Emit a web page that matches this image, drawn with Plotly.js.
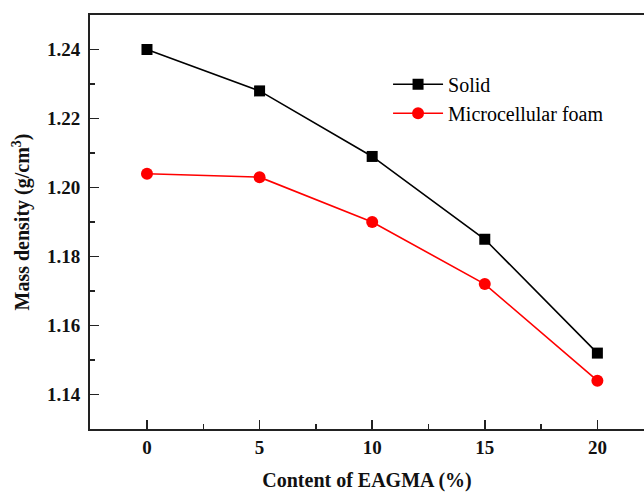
<!DOCTYPE html>
<html>
<head>
<meta charset="utf-8">
<script src="https://cdn.plot.ly/plotly-3.0.1.min.js"></script>
<style>html,body{margin:0;padding:0;background:#fff;}#chart{width:644px;height:493px;}</style>
</head>
<body>
<div id="chart"></div>
<script>
const eagmaContent = [0, 5, 10, 15, 20];
const solidDensity = [1.240, 1.228, 1.209, 1.185, 1.152];
const foamDensity = [1.204, 1.203, 1.190, 1.172, 1.144];
const seriesNames = ["Solid", "Microcellular foam"];
const xTickVals = [0, 5, 10, 15, 20];
const yTickVals = [1.14, 1.16, 1.18, 1.20, 1.22, 1.24];
const yTickText = ["1.14", "1.16", "1.18", "1.20", "1.22", "1.24"];

const serif = "'Times New Roman', 'Liberation Serif', serif";

const traces = [
  {x: eagmaContent, y: solidDensity, name: seriesNames[0], type: "scatter", mode: "lines+markers",
   line: {color: "#000000", width: 1.6}, marker: {symbol: "square", size: 11, color: "#000000"}},
  {x: eagmaContent, y: foamDensity, name: seriesNames[1], type: "scatter", mode: "lines+markers",
   line: {color: "#ff0000", width: 1.6}, marker: {symbol: "circle", size: 12, color: "#ff0000"}}
];

const layout = {
  width: 644, height: 493,
  margin: {l: 90, r: 0, t: 15, b: 64},
  paper_bgcolor: "#fff", plot_bgcolor: "#fff",
  font: {family: serif},
  showlegend: true,
  legend: {x: 0.538, y: 0.88, xanchor: "left", yanchor: "top", bgcolor: "rgba(0,0,0,0)",
           itemwidth: 50,
           font: {family: serif, size: 20, color: "#000"}, tracegroupgap: 0},
  xaxis: {
    range: [-2.53, 22.07], tickvals: xTickVals, ticktext: xTickVals.map(String),
    showgrid: false, zeroline: false, showline: true, linecolor: "#222", linewidth: 2, mirror: true,
    ticks: "inside", ticklen: 9, tickwidth: 1.5, tickcolor: "#222",
    minor: {dtick: 2.5, ticks: "inside", ticklen: 5, tickwidth: 1.5, tickcolor: "#222", showgrid: false},
    tickfont: {family: serif, size: 19, color: "#111", weight: "bold"},
    title: {text: "<b>Content of EAGMA (%)</b>", font: {family: serif, size: 20, color: "#111"}, standoff: 16}
  },
  yaxis: {
    range: [1.13, 1.25], tickvals: yTickVals, ticktext: yTickText,
    showgrid: false, zeroline: false, showline: true, linecolor: "#222", linewidth: 2,
    ticks: "inside", ticklen: 9, tickwidth: 1.5, tickcolor: "#222", ticklabelstandoff: 4,
    minor: {dtick: 0.01, ticks: "inside", ticklen: 5, tickwidth: 1.5, tickcolor: "#222", showgrid: false},
    tickfont: {family: serif, size: 19, color: "#111", weight: "bold"},
    title: {text: "<b>Mass density (g/cm<sup>3</sup>)</b>", font: {family: serif, size: 20, color: "#111"}, standoff: 12}
  }
};

Plotly.newPlot("chart", traces, layout, {displayModeBar: false, staticPlot: true});
</script>
</body>
</html>
